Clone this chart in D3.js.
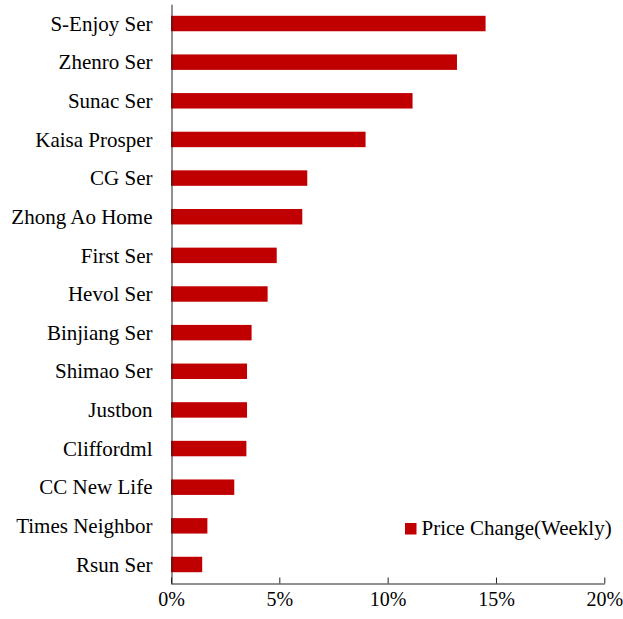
<!DOCTYPE html>
<html>
<head>
<meta charset="utf-8">
<script src="https://cdn.jsdelivr.net/npm/d3@7"></script>
<style>
  body { margin: 0; background: #fff; }
  text { font-family: "Liberation Serif", "Times New Roman", serif; fill: #000; }
</style>
</head>
<body>
<svg id="chart"></svg>
<script>
// data
const categories = [
  "S-Enjoy Ser", "Zhenro Ser", "Sunac Ser", "Kaisa Prosper", "CG Ser",
  "Zhong Ao Home", "First Ser", "Hevol Ser", "Binjiang Ser", "Shimao Ser",
  "Justbon", "Cliffordml", "CC New Life", "Times Neighbor", "Rsun Ser"
];
const priceChange = [
  0.1452, 0.1320, 0.1115, 0.0898, 0.0629,
  0.0606, 0.0488, 0.0446, 0.0372, 0.0351,
  0.0351, 0.0348, 0.0292, 0.0168, 0.0144
];
const xTicks = [0, 0.05, 0.10, 0.15, 0.20];
const seriesName = "Price Change(Weekly)";

// canvas
const W = 623, H = 619;
const svg = d3.select("#chart").attr("width", W).attr("height", H);

const x = d3.scaleLinear().domain([0, 0.2]).range([171, 604.3]);
const y = d3.scaleBand()
  .domain(categories)
  .range([4.2, 583.8])
  .paddingInner(0.6)
  .paddingOuter(0.3);

const barColor = "#C00000";

// bars
svg.append("g")
  .selectAll("rect")
  .data(categories)
  .join("rect")
  .attr("x", x(0))
  .attr("y", (d) => y(d))
  .attr("width", (d, i) => x(priceChange[i]) - x(0))
  .attr("height", y.bandwidth())
  .attr("fill", barColor);

// x axis
const xAxis = svg.append("g")
  .attr("transform", "translate(0,583.5)")
  .call(d3.axisBottom(x).tickValues(xTicks).tickFormat(d3.format(".0%"))
    .tickSizeInner(-6).tickSizeOuter(0).tickPadding(8));
xAxis.selectAll("text").style("font-size", "20px");
xAxis.selectAll("line, path").attr("stroke", "#222");

// y axis
const yAxis = svg.append("g")
  .attr("transform", "translate(171.5,0)")
  .call(d3.axisLeft(y).tickSize(0).tickPadding(19));
yAxis.selectAll("text").style("font-size", "21px").attr("dy", "0.34em");
yAxis.select(".domain").attr("stroke", "#222");

// legend
const legend = svg.append("g").attr("transform", "translate(405,523)");
legend.append("rect")
  .attr("width", 11.5)
  .attr("height", 11.5)
  .attr("fill", barColor);
legend.append("text")
  .attr("x", 16.5)
  .attr("y", 11.5)
  .style("font-size", "21px")
  .text(seriesName);
</script>
</body>
</html>
